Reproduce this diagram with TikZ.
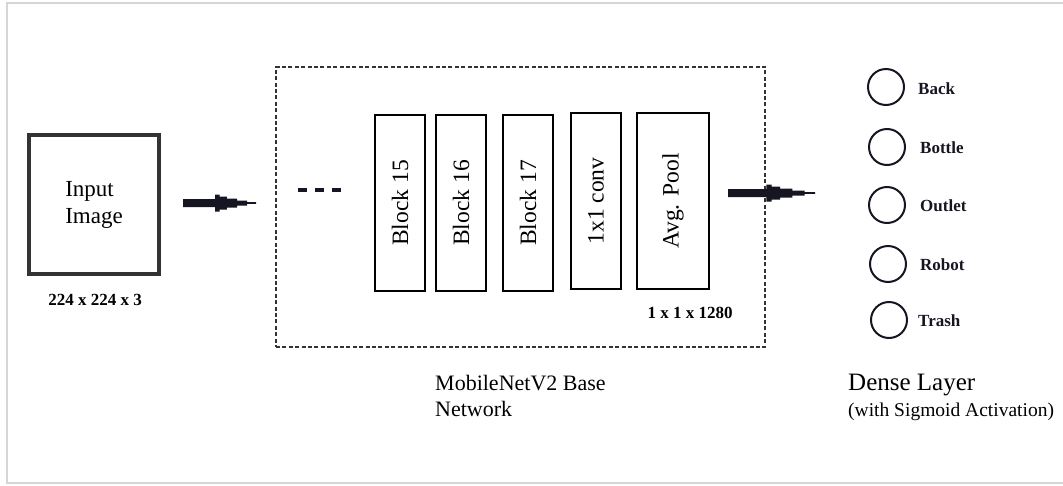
\documentclass[tikz,border=0pt]{standalone}
\usepackage{fontspec}
\setmainfont{Liberation Serif}
\usetikzlibrary{calc}

\definecolor{framegray}{HTML}{D6D6D6}
\definecolor{boxgray}{HTML}{333333}
\definecolor{inkdark}{HTML}{161622}

% filled, stepped arrow between two named coordinates
\newcommand\stubarrow[2]{%
  \fill[inkdark]
    ($(#1)+(0,-4)$) --
    ($(#1)!0.44!(#2)+(0,-4)$) -- ($(#1)!0.44!(#2)+(0,-8.5)$) --
    ($(#1)!0.50!(#2)+(0,-8.5)$) -- ($(#1)!0.50!(#2)+(0,-6.5)$) --
    ($(#1)!0.60!(#2)+(0,-6.5)$) -- ($(#1)!0.60!(#2)+(0,-4.5)$) --
    ($(#1)!0.74!(#2)+(0,-4.5)$) -- ($(#1)!0.74!(#2)+(0,-2.5)$) --
    ($(#1)!0.88!(#2)+(0,-2.5)$) -- ($(#1)!0.88!(#2)+(0,-0.8)$) --
    ($(#2)+(0,-0.8)$) -- ($(#2)+(0,0.8)$) --
    ($(#1)!0.88!(#2)+(0,0.8)$) -- ($(#1)!0.88!(#2)+(0,2.5)$) --
    ($(#1)!0.74!(#2)+(0,2.5)$) -- ($(#1)!0.74!(#2)+(0,4.5)$) --
    ($(#1)!0.60!(#2)+(0,4.5)$) -- ($(#1)!0.60!(#2)+(0,6.5)$) --
    ($(#1)!0.50!(#2)+(0,6.5)$) -- ($(#1)!0.50!(#2)+(0,8.5)$) --
    ($(#1)!0.44!(#2)+(0,8.5)$) -- ($(#1)!0.44!(#2)+(0,4)$) --
    ($(#1)+(0,4)$) -- cycle;}

\tikzset{
  blockbox/.style={draw=black, line width=1.3pt, minimum width=176pt,
    minimum height=50pt, inner sep=0pt, rotate=90,
    font=\fontsize{23.5}{27}\selectfont},
  dimlabel/.style={font=\bfseries\fontsize{17}{20}\selectfont, inner sep=0pt},
  classnode/.style={draw=inkdark, circle, line width=2pt, minimum size=36pt, inner sep=0pt},
  classlabel/.style={anchor=west, inner sep=0pt, text=inkdark,
    font=\bfseries\fontsize{17}{20}\selectfont},
}

\begin{document}
\begin{tikzpicture}[x=1pt, y=-1pt]
  \useasboundingbox (0,0) rectangle (1063,485);

  % outer frame
  \draw[framegray, line width=1.6pt] (1070,3) -- (7,3) -- (7,483) -- (1070,483);

  % input image
  \node[draw=boxgray, line width=4pt, minimum width=130pt, minimum height=139pt,
        inner sep=0pt, align=left, font=\fontsize{23}{27}\selectfont]
        (input) at (94,204.5) {Input\\Image};
  \node[dimlabel] (insize) at (95,300) {224 x 224 x 3};

  \coordinate (a1s) at (183,203);
  \coordinate (a1e) at (256,203);
  \stubarrow{a1s}{a1e}

  % base network
  \node[draw=boxgray, line width=1.8pt, dash pattern=on 4pt off 2.4pt,
        minimum width=489pt, minimum height=280pt, inner sep=0pt]
        (base) at (520.5,207) {};

  \coordinate (dotsl) at (298,190);
  \coordinate (dotsr) at (342,190);
  \draw[inkdark, line width=4pt, dash pattern=on 9pt off 8pt] (dotsl) -- (dotsr);

  \node[blockbox] (b15) at (400,203) {Block 15};
  \node[blockbox] (b16) at (461,203) {Block 16};
  \node[blockbox] (b17) at (528,203) {Block 17};
  \node[blockbox] (conv) at (596,201) {1x1 conv};
  \node[blockbox, minimum height=72pt] (pool) at (673,201) {Avg. Pool};

  \node[dimlabel] (poolsize) at (690,313) {1 x 1 x 1280};

  \node[anchor=west, inner sep=0pt, align=left,
        font=\fontsize{22}{26}\selectfont] (basename) at (435,396)
        {MobileNetV2 Base\\Network};

  \coordinate (a2s) at (728,193);
  \coordinate (a2e) at (815,193);
  \stubarrow{a2s}{a2e}

  % dense layer
  \node[classnode] (c1) at (886,87) {};
  \node[classnode] (c2) at (887,147) {};
  \node[classnode] (c3) at (887,205) {};
  \node[classnode] (c4) at (888,264) {};
  \node[classnode] (c5) at (889,320) {};
  \node[classlabel] (l1) at (918,89) {Back};
  \node[classlabel] (l2) at (920,148) {Bottle};
  \node[classlabel] (l3) at (920,206) {Outlet};
  \node[classlabel] (l4) at (920,265) {Robot};
  \node[classlabel] (l5) at (918,321) {Trash};

  \node[anchor=west, inner sep=0pt, font=\fontsize{25}{28}\selectfont]
        (dense) at (848,385) {Dense Layer};
  \node[anchor=west, inner sep=0pt, font=\fontsize{19.5}{22}\selectfont]
        (densesub) at (848,412) {(with Sigmoid Activation)};
\end{tikzpicture}
\end{document}
